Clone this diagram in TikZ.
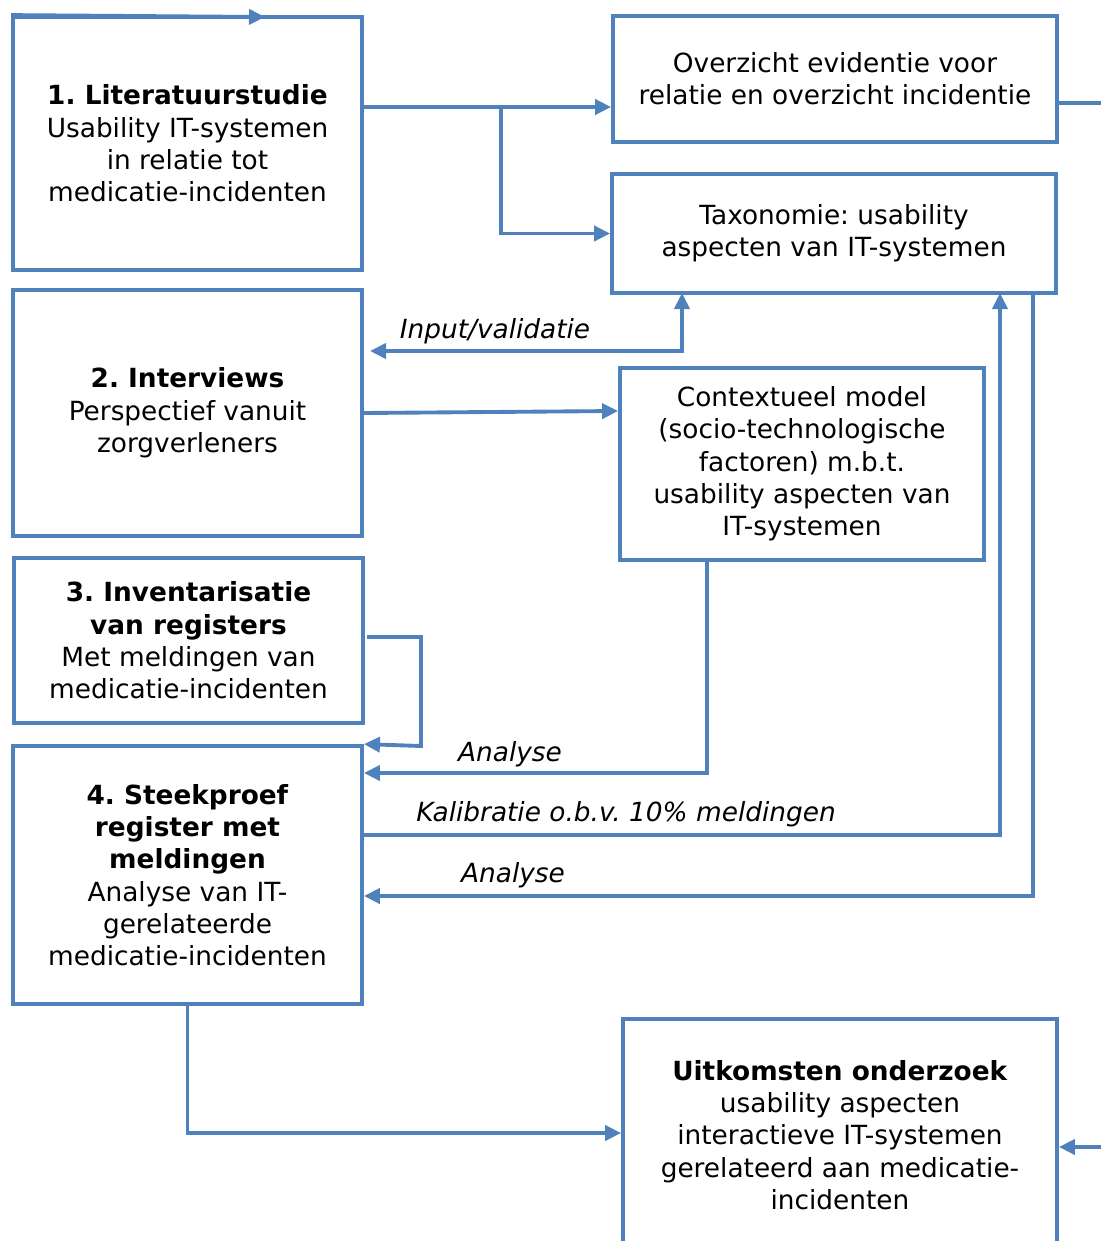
\documentclass[tikz,border=0pt]{standalone}
\usepackage{fontspec}
\setmainfont{DejaVu Sans}
\usetikzlibrary{arrows.meta}
\definecolor{boxblue}{HTML}{4F81BD}
\frenchspacing

\begin{document}
\begin{tikzpicture}[x=0.02cm,y=-0.02cm]

\tikzstyle{stepbox} = [rectangle, draw=boxblue, line width=2.2pt, align=center, inner sep=0pt, font=\fontsize{15}{18.4}\selectfont]
\tikzstyle{arrow} = [draw=boxblue, line width=2.2pt, -{Triangle[length=0.32cm, width=0.3cm]}]
\tikzstyle{line} = [draw=boxblue, line width=2.2pt]
\tikzstyle{lbl} = [font=\fontsize{15}{18.4}\selectfont\itshape, inner sep=0pt]

\useasboundingbox (0,0) rectangle (1101,1241);

\node (lit) [stepbox, minimum width=6.98cm, minimum height=5.06cm] at (187.5,143.5) {\textbf{1. Literatuurstudie}\\Usability IT-systemen\\in relatie tot\\medicatie-incidenten};
\node (overview) [stepbox, minimum width=8.88cm, minimum height=2.52cm] at (835,79) {Overzicht evidentie voor\\relatie en overzicht incidentie};
\node (tax) [stepbox, minimum width=8.88cm, minimum height=2.38cm] at (834,233.5) {Taxonomie: usability\\aspecten van IT-systemen};
\node (interview) [stepbox, minimum width=6.98cm, minimum height=4.92cm] at (187.5,413) {\textbf{2. Interviews}\\Perspectief vanuit\\zorgverleners};
\node (context) [stepbox, minimum width=7.28cm, minimum height=3.84cm] at (802,464) {Contextueel model\\(socio-technologische\\factoren) m.b.t.\\usability aspecten van\\IT-systemen};
\node (inventory) [stepbox, minimum width=6.98cm, minimum height=3.30cm] at (188.5,640.5) {\textbf{3. Inventarisatie}\\\textbf{van registers}\\Met meldingen van\\medicatie-incidenten};
\node (sample) [stepbox, minimum width=6.98cm, minimum height=5.16cm] at (187.5,875) {\textbf{4. Steekproef}\\\textbf{register met}\\\textbf{meldingen}\\Analyse van IT-\\gerelateerde\\medicatie-incidenten};
\node (result) [stepbox, minimum width=8.68cm, minimum height=4.64cm] at (840,1135) {\textbf{Uitkomsten onderzoek}\\usability aspecten\\interactieve IT-systemen\\gerelateerd aan medicatie-\\incidenten};

\node (inputlbl) [lbl] at (495,331) {Input/validatie};
\node (analyse1) [lbl] at (510,754) {Analyse};
\node (kalibratie) [lbl] at (626,814) {Kalibratie o.b.v. 10\% meldingen};
\node (analyse2) [lbl] at (513,875) {Analyse};

\coordinate (topend) at (265,17);
\coordinate (split) at (501,107);
\coordinate (rightout) at (1101,103);
\coordinate (rightin) at (1101,1147);

\draw [arrow] (lit.north west) -- (topend);
\draw [arrow] (lit.east |- split) -- (overview.west |- split);
\draw [arrow] (split) |- (tax.west);
\draw [line] (overview.east |- rightout) -- (rightout);
\draw [line, {Triangle[length=0.32cm, width=0.3cm]}-{Triangle[length=0.32cm, width=0.3cm]}] (370,351) -| (682,293);
\draw [arrow] (interview.east) -- (context.west |- 0,411);
\draw [arrow] (367,637) -| (421,746) -- (sample.north east);
\draw [arrow] (707,560) |- (sample.east |- 0,773);
\draw [arrow] (sample.east |- 0,835) -| (1000,293);
\draw [arrow] (1033,293) |- (sample.east |- 0,896);
\draw [arrow] (sample.south) |- (result.west |- 0,1133);
\draw [arrow] (rightin) -- (result.east |- rightin);

\end{tikzpicture}
\end{document}
